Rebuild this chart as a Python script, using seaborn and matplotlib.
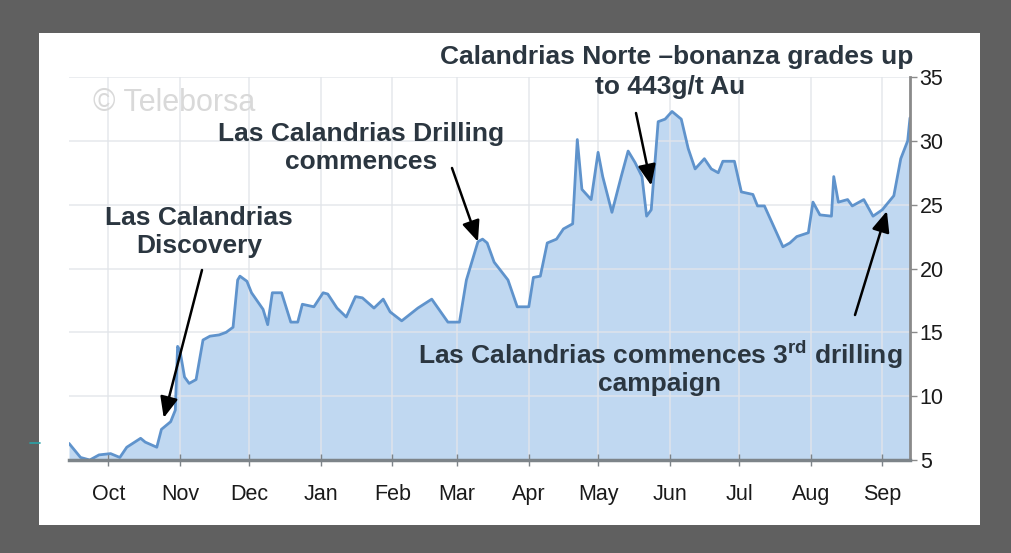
import numpy as np
import pandas as pd
import seaborn as sns
import matplotlib.pyplot as plt
import matplotlib.dates as mdates
from matplotlib.patches import Rectangle
from matplotlib.lines import Line2D

# share price
dates = ['2009-09-14', '2009-09-19', '2009-09-23', '2009-09-27', '2009-10-02', '2009-10-06',
         '2009-10-09', '2009-10-15', '2009-10-17', '2009-10-22', '2009-10-24', '2009-10-28',
         '2009-10-30', '2009-10-31', '2009-11-01', '2009-11-03', '2009-11-05', '2009-11-08',
         '2009-11-11', '2009-11-14', '2009-11-18', '2009-11-21', '2009-11-24', '2009-11-26',
         '2009-11-27', '2009-11-30', '2009-12-02', '2009-12-07', '2009-12-09', '2009-12-11',
         '2009-12-15', '2009-12-19', '2009-12-22', '2009-12-24', '2009-12-29', '2010-01-02',
         '2010-01-04', '2010-01-08', '2010-01-12', '2010-01-16', '2010-01-19', '2010-01-24',
         '2010-01-28', '2010-01-31', '2010-02-05', '2010-02-12', '2010-02-18', '2010-02-25',
         '2010-03-02', '2010-03-05', '2010-03-10', '2010-03-12', '2010-03-14', '2010-03-17',
         '2010-03-23', '2010-03-27', '2010-04-01', '2010-04-03', '2010-04-06', '2010-04-09',
         '2010-04-13', '2010-04-16', '2010-04-20', '2010-04-22', '2010-04-24', '2010-04-28',
         '2010-05-01', '2010-05-03', '2010-05-07', '2010-05-11', '2010-05-14', '2010-05-17',
         '2010-05-20', '2010-05-22', '2010-05-24', '2010-05-27', '2010-05-30', '2010-06-02',
         '2010-06-06', '2010-06-09', '2010-06-12', '2010-06-16', '2010-06-19', '2010-06-22',
         '2010-06-24', '2010-06-29', '2010-07-02', '2010-07-07', '2010-07-09', '2010-07-12',
         '2010-07-16', '2010-07-20', '2010-07-23', '2010-07-26', '2010-07-31', '2010-08-02',
         '2010-08-05', '2010-08-10', '2010-08-11', '2010-08-13', '2010-08-17', '2010-08-19',
         '2010-08-24', '2010-08-28', '2010-09-01', '2010-09-06', '2010-09-09', '2010-09-12',
         '2010-09-13']
prices = [6.3, 5.2, 5.0, 5.4, 5.5, 5.2,
          6.0, 6.7, 6.4, 6.0, 7.4, 8.0,
          8.9, 13.9, 13.6, 11.5, 11.0, 11.3,
          14.4, 14.7, 14.8, 15.0, 15.4, 19.1,
          19.4, 19.0, 18.1, 16.8, 15.6, 18.1,
          18.1, 15.8, 15.8, 17.2, 17.0, 18.1,
          18.0, 16.9, 16.2, 17.8, 17.7, 16.9,
          17.6, 16.6, 15.9, 16.9, 17.6, 15.8,
          15.8, 19.1, 22.1, 22.3, 22.0, 20.5,
          19.1, 17.0, 17.0, 19.3, 19.4, 22.0,
          22.3, 23.1, 23.5, 30.1, 26.2, 25.4,
          29.1, 27.2, 24.4, 27.2, 29.2, 28.3,
          27.2, 24.1, 24.6, 31.5, 31.7, 32.3,
          31.7, 29.4, 27.8, 28.6, 27.8, 27.5,
          28.4, 28.4, 26.0, 25.8, 24.9, 24.9,
          23.3, 21.7, 22.0, 22.5, 22.8, 25.2,
          24.2, 24.1, 27.2, 25.2, 25.4, 24.9,
          25.4, 24.1, 24.6, 25.7, 28.6, 30.0,
          31.8]
yticks = [5, 10, 15, 20, 25, 30, 35]

data = pd.DataFrame({'date': pd.to_datetime(dates), 'price': prices})

sns.set_theme(style='white')
plt.rcParams['font.family'] = ['Liberation Sans', 'DejaVu Sans']
plt.rcParams['mathtext.fontset'] = 'custom'
plt.rcParams['mathtext.bf'] = 'Liberation Sans:bold'
plt.rcParams['mathtext.rm'] = 'Liberation Sans'

W, H = 1012, 553
fig = plt.figure(figsize=(W / 100, H / 100), dpi=100, facecolor='#606060')
# white slide panel behind the chart
fig.patches.append(Rectangle((39 / W, 1 - 525 / H), (980 - 39) / W, (525 - 33) / H,
                             transform=fig.transFigure, facecolor='white', edgecolor='none', zorder=-5))
fig.lines.append(Line2D([30 / W, 40 / W], [1 - 443 / H, 1 - 443 / H], transform=fig.transFigure,
                        color='#2aa3a8', lw=1.2))

ax = fig.add_axes([69 / W, 1 - 460 / H, (910 - 69) / W, (460 - 77) / H])
ax.set_facecolor('none')

ax.fill_between(data['date'], 5, data['price'], color='#c0d8f1', lw=0, zorder=1)
sns.lineplot(data=data, x='date', y='price', color='#5f93cc', lw=2, ax=ax, zorder=2)

ax.set_xlim(pd.Timestamp('2009-09-14'), pd.Timestamp('2010-09-13'))
ax.set_ylim(5, 35)
ax.set_yticks(yticks)
ax.yaxis.tick_right()
ax.xaxis.set_major_locator(mdates.MonthLocator())
ax.xaxis.set_major_formatter(mdates.DateFormatter('%b'))
ax.set_xlabel('')
ax.set_ylabel('')

ax.set_axisbelow('line')
ax.grid(True, color='#e2e5ea', lw=1.3, alpha=0.75)

for s in ['left', 'top']:
    ax.spines[s].set_visible(False)
ax.spines['right'].set_color('#8a8a8a')
ax.spines['right'].set_linewidth(2)
ax.spines['bottom'].set_color('#7d8489')
ax.spines['bottom'].set_linewidth(2.5)

ax.tick_params(axis='x', direction='inout', length=8, width=1, color='#7d8489',
               pad=13, labelsize=15.5, labelcolor='#1a1a1a', bottom=True)
ax.tick_params(axis='y', direction='out', length=5, width=1, color='#8a8a8a',
               pad=2, labelsize=15.5, labelcolor='#1a1a1a', right=True, left=False)

fig.text(93 / W, 1 - 103 / H, '\u00a9 Teleborsa', color='#d9d9d9', fontsize=22,
         va='center', ha='left')

txt = dict(color='#2b3640', fontsize=19, fontweight='bold', ha='center', va='center',
           linespacing=1.25)
fig.text(199 / W, 1 - 232 / H, 'Las Calandrias\nDiscovery', **txt)
fig.text(361 / W, 1 - 148 / H, 'Las Calandrias Drilling\ncommences', **txt)
fig.text(677 / W, 1 - 57 / H, 'Calandrias Norte \u2013bonanza grades up', **txt)
fig.text(670 / W, 1 - 87 / H, 'to 443g/t Au', **txt)
fig.text(660 / W, 1 - 355 / H, 'Las Calandrias commences 3$^{\\mathbf{rd}}$ drilling', **txt)
fig.text(660 / W, 1 - 384 / H, 'campaign', **txt)

arrow = dict(arrowstyle='-|>,head_length=0.7,head_width=0.3', color='black', lw=1.8,
             mutation_scale=18, shrinkA=0, shrinkB=0)
ax.annotate('', xy=(pd.Timestamp('2009-10-25'), 8.3), xytext=(202, H - 270),
            textcoords='figure pixels', arrowprops=arrow)
ax.annotate('', xy=(pd.Timestamp('2010-03-10'), 22.1), xytext=(452, H - 168),
            textcoords='figure pixels', arrowprops=arrow)
ax.annotate('', xy=(pd.Timestamp('2010-05-24'), 26.5), xytext=(636, H - 113),
            textcoords='figure pixels', arrowprops=arrow)
ax.annotate('', xy=(pd.Timestamp('2010-09-03'), 24.5), xytext=(855, H - 315),
            textcoords='figure pixels', arrowprops=arrow)

fig.savefig('out.png', dpi=100, facecolor=fig.get_facecolor())
